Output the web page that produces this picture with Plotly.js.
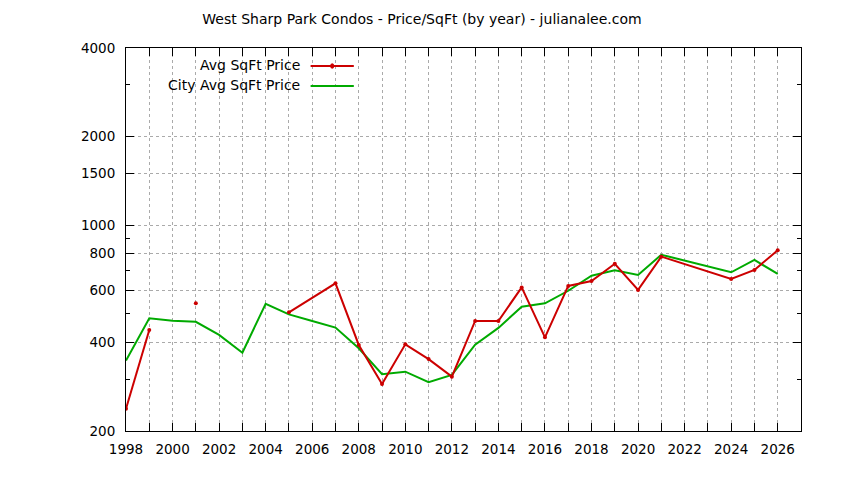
<!DOCTYPE html>
<html>
<head>
<meta charset="utf-8">
<script src="https://cdn.plot.ly/plotly-3.0.1.min.js"></script>
<style>
body { margin: 0; background: #fff; }
#chart { width: 844px; height: 480px; }
</style>
</head>
<body>
<div id="chart"></div>
<script>
// neighbourhood avg price per sqft (null = no sales that year)
var avgYears = [1998, 1999, 2000, 2001, 2003, 2005, 2007, 2008, 2009, 2010, 2011, 2012, 2013, 2014, 2015, 2016, 2017, 2018, 2019, 2020, 2021, 2024, 2025, 2026];
var avgPrice = [238, 441, null, 543, null, 506, 635, 392, 289, 394, 351, 306, 473, 473, 615, 416, 622, 646, 740, 603, 782, 657, 705, 822];

// city wide avg price per sqft
var cityYears = [1998, 1999, 2000, 2001, 2002, 2003, 2004, 2005, 2006, 2007, 2008, 2009, 2010, 2011, 2012, 2013, 2014, 2015, 2016, 2017, 2018, 2019, 2020, 2021, 2024, 2025, 2026];
var cityPrice = [347, 483, 474, 470, 424, 369, 541, 498, 473, 449, 382, 312, 318, 293, 310, 393, 448, 529, 543, 599, 674, 703, 678, 794, 692, 762, 683];

var yTicks = [200, 400, 600, 800, 1000, 1500, 2000, 4000];
var yMinor = [300, 500, 700, 900, 3000];

var xTicks = [];
var xLabels = [];
for (var y = 1998; y <= 2026; y++) {
  xTicks.push(y);
  xLabels.push(y % 2 == 0 ? String(y) : '');
}

var red = 'rgb(204,0,0)';
var green = 'rgb(0,170,0)';

var avg = {
  x: avgYears,
  y: avgPrice,
  name: 'Avg SqFt Price',
  mode: 'lines+markers',
  type: 'scatter',
  line: {color: red, width: 2},
  marker: {color: red, size: 4},
  connectgaps: false
};

var city = {
  x: cityYears,
  y: cityPrice,
  name: 'City Avg SqFt Price',
  mode: 'lines',
  type: 'scatter',
  line: {color: green, width: 2}
};

var font = {family: 'DejaVu Sans, sans-serif', size: 14, color: '#000'};
var tickFont = {family: 'DejaVu Sans, sans-serif', size: 13.5, color: '#000'};

var layout = {
  width: 844,
  height: 480,
  margin: {l: 126, r: 43, t: 48, b: 49},
  paper_bgcolor: '#fff',
  plot_bgcolor: '#fff',
  font: font,
  showlegend: false,
  title: {text: 'West Sharp Park Condos - Price/SqFt (by year) - julianalee.com',
    x: 0.5, xanchor: 'center', y: 0.96, yanchor: 'middle', font: font},
  xaxis: {
    range: [1998, 2027],
    tickmode: 'array',
    tickvals: xTicks,
    ticktext: xLabels,
    tickfont: tickFont,
    ticks: 'inside',
    ticklen: 8,
    tickcolor: '#000',
    showline: true,
    linecolor: '#000',
    linewidth: 1,
    mirror: 'ticks',
    showgrid: true,
    gridcolor: '#aaa',
    griddash: 'dot',
    gridwidth: 1,
    zeroline: false,
    ticklabelstandoff: 6
  },
  yaxis: {
    type: 'log',
    range: [Math.log10(200), Math.log10(4000)],
    tickmode: 'array',
    tickvals: yTicks,
    ticktext: yTicks.map(String),
    tickfont: tickFont,
    ticks: 'inside',
    ticklen: 8,
    tickcolor: '#000',
    showline: true,
    linecolor: '#000',
    linewidth: 1,
    mirror: 'ticks',
    showgrid: true,
    gridcolor: '#aaa',
    griddash: 'dot',
    gridwidth: 1,
    zeroline: false,
    ticklabelstandoff: 7,
    minor: {tickmode: 'array', tickvals: yMinor, ticks: 'inside', ticklen: 4, tickcolor: '#000', showgrid: false}
  },
  // gnuplot style key: text right aligned, sample to the right
  annotations: [
    {xref: 'paper', yref: 'paper', x: 0.26, y: 0.956, xanchor: 'right', yanchor: 'middle',
     text: 'Avg SqFt Price', showarrow: false, font: font},
    {xref: 'paper', yref: 'paper', x: 0.26, y: 0.903, xanchor: 'right', yanchor: 'middle',
     text: 'City Avg SqFt Price', showarrow: false, font: font}
  ],
  shapes: [
    // key background hides the grid behind it
    {type: 'rect', xref: 'paper', yref: 'paper', x0: 0.002, x1: 0.358, y0: 0.880, y1: 0.976,
     fillcolor: '#fff', line: {width: 0}, layer: 'between'},
    {type: 'line', xref: 'paper', yref: 'paper', x0: 0.2735, x1: 0.3375, y0: 0.953, y1: 0.953,
     line: {color: red, width: 2}},
    {type: 'circle', xref: 'paper', yref: 'paper', x0: 0.3025, x1: 0.3085, y0: 0.946, y1: 0.960,
     fillcolor: red, line: {color: red, width: 0}},
    {type: 'line', xref: 'paper', yref: 'paper', x0: 0.2735, x1: 0.3375, y0: 0.901, y1: 0.901,
     line: {color: green, width: 2}}
  ]
};

Plotly.newPlot('chart', [city, avg], layout, {displayModeBar: false, staticPlot: true});
</script>
</body>
</html>
